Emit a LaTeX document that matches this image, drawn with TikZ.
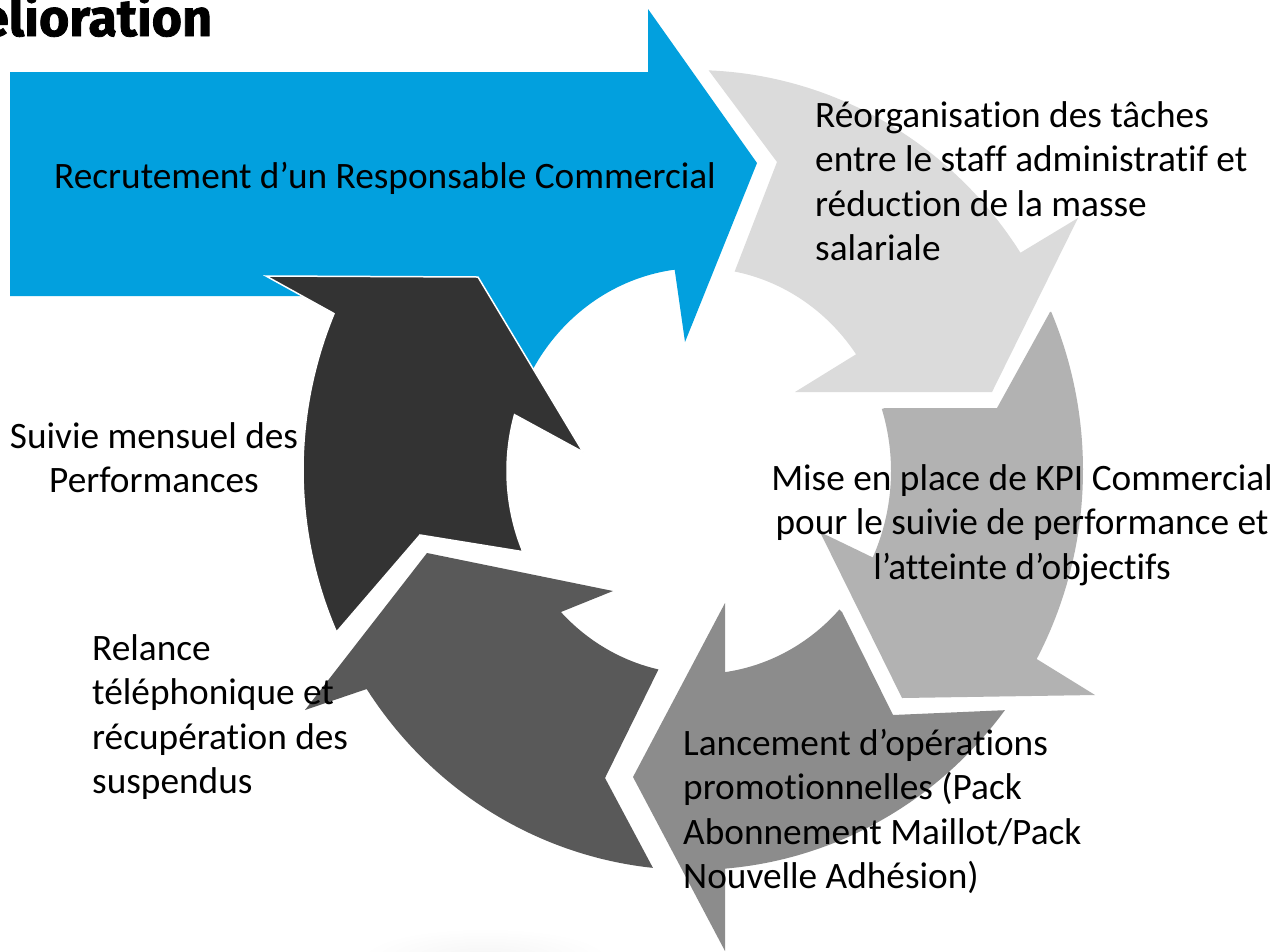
\documentclass[tikz,border=0pt]{standalone}
\usepackage{fontspec}
\setmainfont{Carlito}[Ligatures=NoCommon]
\newfontfamily\titlefont{Fira Sans}[FakeBold=1.5]
\usepackage{array}
\definecolor{cblue}{HTML}{02A0DE}
\definecolor{cdark}{HTML}{333333}
\definecolor{cfive}{HTML}{595959}
\definecolor{ceight}{HTML}{8C8C8C}
\definecolor{cbtwo}{HTML}{B2B2B2}
\definecolor{clight}{HTML}{DBDBDB}
\newcommand\mlinesL[1]{\begin{tabular}[t]{@{}l@{}}#1\end{tabular}}
\newcommand\mlinesC[1]{\begin{tabular}[t]{@{}c@{}}#1\end{tabular}}
\begin{document}
\begin{tikzpicture}[x=1pt,y=-1pt,
  lbl/.style={inner sep=0pt,font=\fontsize{37.3}{44.5}\selectfont,text=black},
  ttl/.style={inner sep=0pt,font=\titlefont\bfseries\fontsize{52}{58}\selectfont,text=black}]
\useasboundingbox (0,0) rectangle (1281,951);
\fill[white] (0,0) rectangle (1281,951);
% faint shadow at bottom
\shade[inner color=gray!8,outer color=white] (485,958) ellipse[x radius=125,y radius=30];
% blue arrow (rectangle + circular arrow)
\fill[cblue] (10,72) -- (648,72) -- (648,9) -- (757,163) -- (685,342) -- (675,272)
  -- plot[domain=-97.3:-155,samples=40,variable=\t] ({699+192*cos(\t)},{471+203*sin(\t)})
  -- (478,296) -- (10,296) -- cycle;
% light gray arrow
\fill[clight] plot[domain=-87.7:-32.9,samples=50,variable=\t] ({693+390*cos(\t)},{470+400*sin(\t)})
  -- (1078,218) -- (992,392) -- (795,392)
  -- plot[domain=-35.1:-79.3,samples=40,variable=\t] ({699+192*cos(\t)},{471+203*sin(\t)})
  -- (777,162) -- cycle;
% B2 arrow
\fill[cbtwo] (1050,312) -- (997,408) -- (885,408)
  -- plot[domain=-17.8:25.2,samples=40,variable=\t] ({699+192*cos(\t)},{471+203*sin(\t)})
  -- (820,532) -- (902,698) -- (1095,695)
  -- plot[domain=28.2:-23.3,samples=50,variable=\t] ({693+390*cos(\t)},{470+400*sin(\t)})
  -- cycle;
% 8C arrow
\fill[ceight] (633,777) -- (725,951) -- (725,869)
  -- plot[domain=85.3:36.9,samples=50,variable=\t] ({693+390*cos(\t)},{470+400*sin(\t)})
  -- (893,715) -- (842,612)
  -- plot[domain=43:82.2,samples=40,variable=\t] ({699+192*cos(\t)},{471+203*sin(\t)})
  -- (725,603) -- cycle;
% 59 arrow
\fill[cfive] (305,710) -- (427,553) -- (613,591)
  -- plot[domain=136:102.2,samples=40,variable=\t] ({699+192*cos(\t)},{471+203*sin(\t)})
  -- (605,778)
  -- plot[domain=95.9:146.8,samples=50,variable=\t] ({693+390*cos(\t)},{470+400*sin(\t)})
  -- cycle;
% dark arrow
\filldraw[fill=cdark,draw=white,line width=1.5pt,line join=miter] (266,276) -- (333,313)
  -- plot[domain=203:156.1,samples=50,variable=\t] ({693+390*cos(\t)},{470+400*sin(\t)})
  -- (420,535) -- (525,552)
  -- plot[domain=156.2:196.1,samples=40,variable=\t] ({699+192*cos(\t)},{471+203*sin(\t)})
  -- (583,452) -- (478,277) -- cycle;
% texts
\node[ttl,anchor=base west] (title) at (-20,36) {élioration};
\node[lbl,anchor=base] (t1) at (385,188) {Recrutement d’un Responsable Commercial};
\node[lbl,anchor=base west] (t2) at (815,127) {\mlinesL{Réorganisation des tâches\\entre le staff administratif et\\réduction de la masse\\salariale}};
\node[lbl,anchor=base] (t3) at (1022,490) {\mlinesC{Mise en place de KPI Commercial\\pour le suivie de performance et\\l’atteinte d’objectifs}};
\node[lbl,anchor=base west] (t4) at (683,755) {\mlinesL{Lancement d’opérations\\promotionnelles (Pack\\Abonnement Maillot/Pack\\Nouvelle Adhésion)}};
\node[lbl,anchor=base west] (t5) at (92,660) {\mlinesL{Relance\\téléphonique et\\récupération des\\suspendus}};
\node[lbl,anchor=base] (t6) at (154,448) {\mlinesC{Suivie mensuel des\\Performances}};
\end{tikzpicture}
\end{document}
